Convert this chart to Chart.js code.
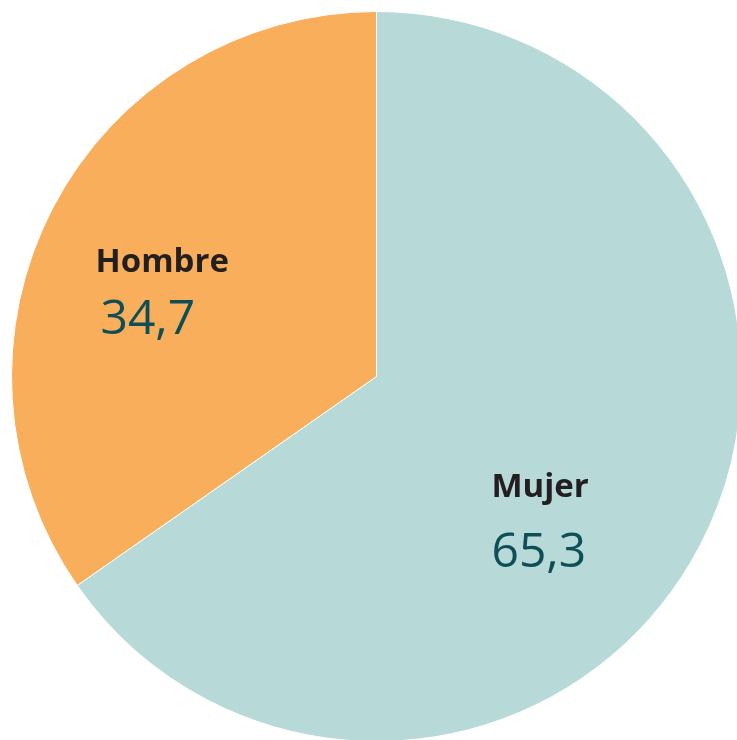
<!DOCTYPE html>
<html>
<head>
<meta charset="utf-8">
<script src="https://cdn.jsdelivr.net/npm/chart.js@4.4.1/dist/chart.umd.min.js"></script>
<style>
  html, body { margin: 0; padding: 0; background: #fff; overflow: hidden; }
  #wrap { position: absolute; left: 11px; top: 11px; width: 731px; height: 731px; }
</style>
</head>
<body>
<div id="wrap"><canvas id="myChart"></canvas></div>
<script>
// data
var categories = ['Mujer', 'Hombre'];
var values = [65.3, 34.7];
var colors = ['#B7DAD9', '#F9AE5B'];

// where each label sits, as a fraction of the radius from the centre
var labelSpots = [
    { dx: 0.315, dy: 0.33, nx: 0, ny: 70 },
    { dx: -0.77, dy: -0.285, nx: 5, ny: 62 }
];

var sliceLabels = {
    id: 'sliceLabels',
    afterDatasetsDraw: function (chart) {
        var ctx = chart.ctx;
        var meta = chart.getDatasetMeta(0);
        meta.data.forEach(function (arc, i) {
            var r = arc.outerRadius;
            var x = arc.x + labelSpots[i].dx * r;
            var y = arc.y + labelSpots[i].dy * r;
            ctx.save();
            ctx.textAlign = 'left';
            ctx.textBaseline = 'alphabetic';
            ctx.fillStyle = '#231F20';
            ctx.font = 'bold 33px "Open Sans"';
            ctx.fillText(categories[i], x, y);
            ctx.fillStyle = '#0E4F57';
            ctx.font = '48px "Open Sans"';
            ctx.fillText(values[i].toFixed(1).replace('.', ','), x + labelSpots[i].nx, y + labelSpots[i].ny);
            ctx.restore();
        });
    }
};

var ctx = document.getElementById('myChart').getContext('2d');
window.myChart = new Chart(ctx, {
    type: 'pie',
    data: {
        labels: categories,
        datasets: [{
            data: values,
            backgroundColor: colors,
            borderColor: '#ffffff',
            borderWidth: 1
        }]
    },
    options: {
        responsive: true,
        maintainAspectRatio: false,
        animation: false,
        layout: { padding: 0 },
        plugins: {
            legend: { display: false },
            tooltip: { enabled: false }
        }
    },
    plugins: [sliceLabels]
});
</script>
</body>
</html>
